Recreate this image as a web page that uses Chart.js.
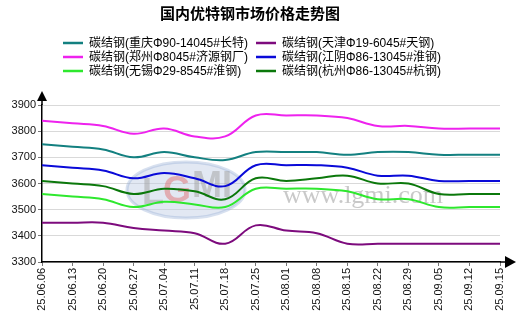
<!DOCTYPE html>
<html>
<head>
<meta charset="utf-8">
<script src="https://cdn.jsdelivr.net/npm/chart.js@4/dist/chart.umd.min.js"></script>
<style>
html,body{margin:0;padding:0;background:#fff;}
#wrap{width:524px;height:332px;}
</style>
</head>
<body>
<div id="wrap"><canvas id="c" width="524" height="332"></canvas></div>
<script>
const TITLE = '国内优特钢市场价格走势图';
const dates = ['25.06.06','25.06.13','25.06.20','25.06.27','25.07.04','25.07.11','25.07.18','25.07.25','25.08.01','25.08.08','25.08.15','25.08.22','25.08.29','25.09.05','25.09.12','25.09.15'];
const yTicks = [3300,3400,3500,3600,3700,3800,3900];

const chongqing = [3750,3740,3730,3700,3720,3700,3690,3720,3720,3720,3710,3720,3720,3710,3710,3710];
const tianjin   = [3450,3450,3450,3430,3420,3410,3370,3440,3420,3410,3370,3370,3370,3370,3370,3370];
const zhengzhou = [3840,3830,3820,3790,3810,3780,3780,3860,3860,3860,3850,3820,3820,3810,3810,3810];
const jiangyin  = [3670,3660,3650,3620,3640,3620,3590,3670,3670,3670,3660,3630,3630,3610,3610,3610];
const wuxi      = [3560,3550,3540,3510,3530,3520,3510,3580,3580,3580,3570,3540,3540,3510,3510,3510];
const hangzhou  = [3610,3600,3590,3560,3580,3570,3540,3620,3610,3620,3630,3600,3600,3560,3560,3560];

const seriesNames = [
  '碳结钢(重庆Φ90-14045#长特)',
  '碳结钢(天津Φ19-6045#天钢)',
  '碳结钢(郑州Φ8045#济源钢厂)',
  '碳结钢(江阴Φ86-13045#淮钢)',
  '碳结钢(无锡Φ29-8545#淮钢)',
  '碳结钢(杭州Φ86-13045#杭钢)'
];
const seriesData = [chongqing, tianjin, zhengzhou, jiangyin, wuxi, hangzhou];
const seriesColors = ['#138080','#7d0b7d','#ee22ee','#0a0ad8','#2ee82e','#0b780b'];

const FONT = '"Liberation Sans", Arial, "Noto Sans CJK SC", sans-serif';

const datasets = seriesData.map((d,i)=>({
  label: seriesNames[i],
  data: d,
  borderColor: seriesColors[i],
  backgroundColor: seriesColors[i],
  borderWidth: 2,
  pointRadius: 0,
  tension: 0.4,
  fill: false
}));

const watermark = {
  id:'watermark',
  beforeDatasetsDraw(chart){
    const ctx = chart.ctx;
    ctx.save();
    ctx.beginPath();
    ctx.ellipse(186,190,59,28,0,0,Math.PI*2);
    ctx.fillStyle='rgba(190,205,228,0.45)';
    ctx.fill();
    ctx.lineWidth=3;
    ctx.strokeStyle='rgba(140,165,210,0.35)';
    ctx.stroke();
    ctx.font='bold 36px "Liberation Sans", Arial, sans-serif';
    ctx.textBaseline='middle';
    ctx.textAlign='left';
    ctx.fillStyle='rgba(160,160,160,0.5)';
    ctx.fillText('L',142,194);
    ctx.fillStyle='rgba(225,100,100,0.45)';
    ctx.fillText('G',163,192);
    ctx.fillStyle='rgba(160,160,160,0.5)';
    ctx.fillText('MI',192,187);
    ctx.font='26px "Liberation Serif", "Times New Roman", serif';
    ctx.fillStyle='rgba(165,165,165,0.6)';
    ctx.textBaseline='alphabetic';
    ctx.fillText('www.lgmi.com',283,203);
    ctx.restore();
  }
};

const customLegend = {
  id:'customLegend',
  afterDraw(chart){
    const ctx = chart.ctx;
    ctx.save();
    ctx.font = '12px ' + FONT;
    ctx.textBaseline = 'middle';
    ctx.textAlign = 'left';
    chart.data.datasets.forEach((ds,i)=>{
      const col = i % 2, row = Math.floor(i/2);
      const x = col === 0 ? 63 : 256;
      const y = 43 + row*14;
      ctx.strokeStyle = ds.borderColor;
      ctx.lineWidth = 2.5;
      ctx.beginPath();
      ctx.moveTo(x,y);
      ctx.lineTo(x+20,y);
      ctx.stroke();
      ctx.fillStyle = '#000';
      ctx.fillText(ds.label, x+26, y+0.5);
    });
    ctx.restore();
  }
};

const arrows = {
  id:'arrows',
  afterDraw(chart){
    const ctx = chart.ctx;
    const a = chart.chartArea;
    ctx.save();
    ctx.strokeStyle='#000';
    ctx.fillStyle='#000';
    ctx.lineWidth=1.5;
    ctx.beginPath();
    ctx.moveTo(a.left, a.top);
    ctx.lineTo(a.left, 100);
    ctx.moveTo(a.right, a.bottom);
    ctx.lineTo(506, a.bottom);
    ctx.stroke();
    ctx.beginPath();
    ctx.moveTo(a.left, 91);
    ctx.lineTo(a.left-5, 101);
    ctx.lineTo(a.left+5, 101);
    ctx.closePath();
    ctx.fill();
    ctx.beginPath();
    ctx.moveTo(516, a.bottom);
    ctx.lineTo(505, a.bottom-6);
    ctx.lineTo(505, a.bottom+6);
    ctx.closePath();
    ctx.fill();
    ctx.restore();
  }
};

new Chart(document.getElementById('c'), {
  type:'line',
  data:{ labels: dates, datasets },
  options:{
    responsive:false,
    animation:false,
    devicePixelRatio:1,
    layout:{ padding:{ left:0, right:24, top:0, bottom:0 } },
    plugins:{
      legend:{ display:false },
      tooltip:{ enabled:false },
      title:{
        display:true,
        text: TITLE,
        color:'#000',
        font:{ family:'"Noto Sans CJK SC", sans-serif', size:15, weight:'bold', lineHeight:1.2 },
        padding:{ top:4, bottom:83 }
      }
    },
    scales:{
      x:{
        offset:false,
        grid:{ display:true, drawOnChartArea:false, drawTicks:true, tickLength:4, tickColor:'#777' },
        border:{ display:true, color:'#000', width:1.5 },
        ticks:{ autoSkip:false, maxRotation:90, minRotation:90, color:'#111', padding:2, font:{ family:FONT, size:11 } },
        afterFit(s){ s.height = 70; }
      },
      y:{
        min: yTicks[0],
        max: yTicks[yTicks.length-1],
        afterBuildTicks(s){ s.ticks = yTicks.map(v=>({value:v})); },
        grid:{ color:'#d9d9d9', lineWidth:1, tickLength:4, tickColor:'#777' },
        border:{ display:true, color:'#000', width:1.5 },
        ticks:{ color:'#111', padding:2, font:{ family:FONT, size:11 }, callback:(v)=>String(v) },
        afterFit(s){ s.width = 42; }
      }
    }
  },
  plugins:[watermark, customLegend, arrows]
});
</script>
</body>
</html>
